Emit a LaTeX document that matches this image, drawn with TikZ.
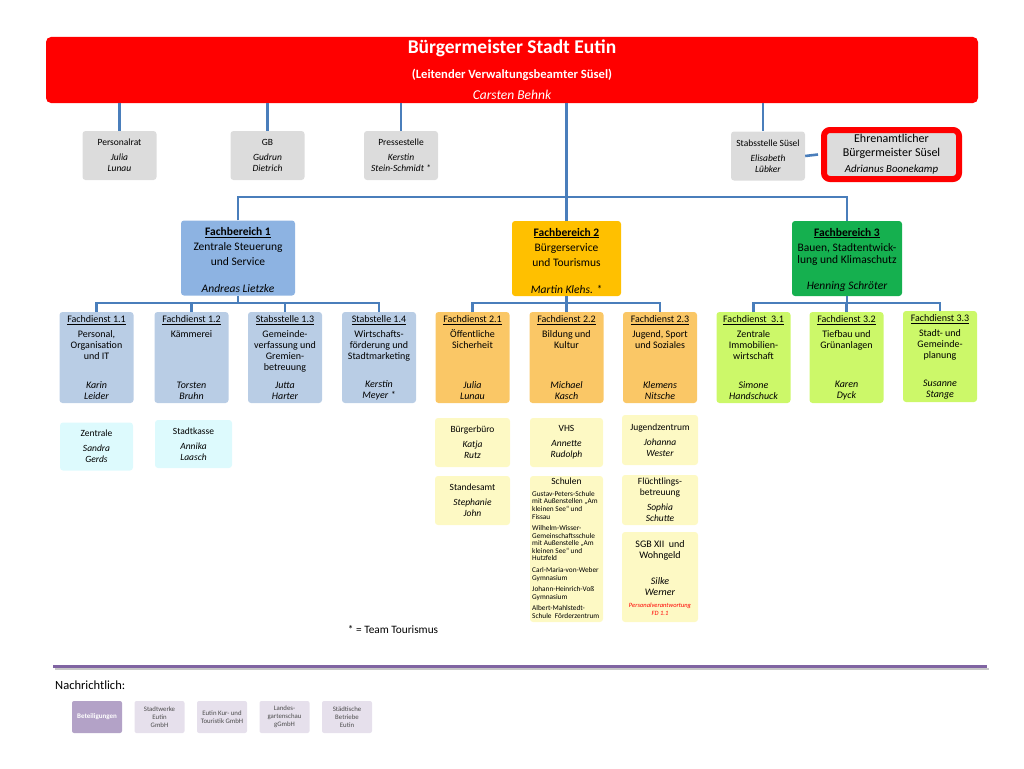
\documentclass[tikz,border=0pt]{standalone}
\usepackage{fontspec}
\setmainfont{Carlito}
\usepackage{tikz}
\definecolor{bmred}{HTML}{FF0000}
\definecolor{boxgrey}{HTML}{DCDCDC}
\definecolor{linkblue}{HTML}{4A7EBB}
\definecolor{fbblue}{HTML}{8DB3E2}
\definecolor{fdblue}{HTML}{B9CDE5}
\definecolor{subcyan}{HTML}{DDFAFD}
\definecolor{fborange}{HTML}{FFC000}
\definecolor{fdorange}{HTML}{FAC766}
\definecolor{subyellow}{HTML}{FDF9C4}
\definecolor{fbgreen}{HTML}{15B04F}
\definecolor{fdgreen}{HTML}{CCF869}
\definecolor{sepviolet}{HTML}{8064A2}
\definecolor{betviolet}{HTML}{B3A2C7}
\definecolor{betlav}{HTML}{E6E0EC}
\tikzset{
  conn/.style={draw=linkblue, line width=2.6pt},
  box/.style={rounded corners=3pt, align=center, inner sep=0pt},
  greybox/.style={box, fill=boxgrey, minimum width=74pt, minimum height=49pt, font=\fontsize{9.5}{11}\selectfont},
  fbbox/.style={box, minimum height=75pt},
  fdbox/.style={box, minimum width=74pt, minimum height=91pt},
  subbox/.style={box, minimum width=74pt, minimum height=49pt, font=\fontsize{9.5}{11}\selectfont},
  betbox/.style={box, rounded corners=2pt, minimum width=50pt, minimum height=32pt, fill=betlav, text=black!70, font=\fontsize{6.8}{8}\selectfont},
  fbhead/.style={anchor=north, align=center, inner sep=0pt, font=\fontsize{11.5}{15}\selectfont},
  fbname/.style={anchor=south, align=center, inner sep=0pt, font=\fontsize{11.5}{13}\itshape},
  fdhead/.style={anchor=north, align=center, inner sep=0pt, font=\fontsize{10}{11}\selectfont},
  fdname/.style={anchor=south, align=center, inner sep=0pt, font=\fontsize{10}{11}\itshape},
}
\begin{document}
\begin{tikzpicture}[x=1pt, y=-1pt]
\useasboundingbox (0,0) rectangle (1024,768);

% Buergermeister
\node (bm) [box, fill=bmred, rounded corners=5pt, minimum width=932pt, minimum height=66pt] at (512,70) {};
\node (bmtitle) at (512,48) [text=white, font=\fontsize{19.5}{22}\bfseries] {Bürgermeister Stadt Eutin};
\node (bmsub) at (512,75) [text=white, font=\fontsize{12.6}{14}\bfseries] {(Leitender Verwaltungsbeamter Süsel)};
\node (bmname) at (512,95) [text=white, font=\fontsize{13.5}{15}\itshape] {Carsten Behnk};

% Stabsstellen
\node (pr) [greybox] at (119.5,155.5) {Personalrat\\[4pt]\textit{Julia}\\\textit{Lunau}};
\node (gb) [greybox] at (267.5,155.5) {GB\\[4pt]\textit{Gudrun}\\\textit{Dietrich}};
\node (ps) [greybox] at (401,155.5) {Pressestelle\\[4pt]\textit{Kerstin}\\\textit{Stein-Schmidt *}};
\node (sts) [greybox] at (768,156) {Stabsstelle Süsel\\[4pt]\textit{Elisabeth}\\\textit{Lübker}};
\node (ehr) [box, fill=boxgrey, draw=bmred, line width=6pt, rounded corners=6pt, minimum width=135pt, minimum height=49pt] at (891.5,154.5) {};
\node (ehrtext) at (891.5,154.5) [align=center, inner sep=0pt, font=\fontsize{12}{13.5}\selectfont] {Ehrenamtlicher\\Bürgermeister Süsel\\[3pt]{\fontsize{10.8}{12}\itshape Adrianus Boonekamp}};
\coordinate (stsin) at ([xshift=-5pt]sts.north);
\coordinate (ehrin) at ([xshift=-3pt]ehr.west);

\draw[conn] (bm.south -| pr.north) -- (pr.north);
\draw[conn] (bm.south -| gb.north) -- (gb.north);
\draw[conn] (bm.south -| ps.north) -- (ps.north);
\draw[conn] (bm.south -| stsin) -- (stsin);
\draw[conn] (sts.east) -- (ehrin);

% Fachbereiche
\node (fb1) [fbbox, fill=fbblue, minimum width=114pt] at (238,258) {};
\node (fb1head) [fbhead] at ([yshift=-7pt]fb1.north) {\textbf{\underline{Fachbereich 1}}\\Zentrale Steuerung\\und Service};
\node (fb1name) [fbname] at ([yshift=2.5pt]fb1.south) {Andreas Lietzke};
\node (fb2) [fbbox, fill=fborange, minimum width=109pt] at (566.5,258.5) {};
\node (fb2head) [fbhead] at ([yshift=-7pt]fb2.north) {\textbf{\underline{Fachbereich 2}}\\Bürgerservice\\und Tourismus};
\node (fb2name) [fbname] at ([yshift=2.5pt]fb2.south) {Martin Klehs. *};
\node (fb3) [fbbox, fill=fbgreen, minimum width=110pt] at (847,258.5) {};
\node (fb3head) [fbhead] at ([yshift=-7pt]fb3.north) {\textbf{\underline{Fachbereich 3}}\\Bauen, Stadtentwick-\\[-2.5pt]lung und Klimaschutz};
\node (fb3name) [fbname] at ([yshift=5pt]fb3.south) {Henning Schröter};

\coordinate (bus) at (0,197);
\draw[conn] (bm.south -| fb2.north) -- (fb2.north);
\draw[conn] (fb1.north) |- (fb3.north |- bus) -- (fb3.north);

% Fachdienste
\node (fd11) [fdbox, fill=fdblue] at (96.5,357.5) {};
\node [fdhead] at ([yshift=-4pt]fd11.north) {\underline{Fachdienst 1.1}\\[3.5pt]Personal,\\Organisation\\und IT};
\node [fdname] at ([yshift=3pt]fd11.south) {Karin\\Leider};
\node (fd12) [fdbox, fill=fdblue] at (191.5,357.5) {};
\node [fdhead] at ([yshift=-4pt]fd12.north) {\underline{Fachdienst 1.2}\\[3.5pt]Kämmerei};
\node [fdname] at ([yshift=3pt]fd12.south) {Torsten\\Bruhn};
\node (fd13) [fdbox, fill=fdblue] at (285,357.5) {};
\node [fdhead] at ([yshift=-4pt]fd13.north) {\underline{Stabsstelle 1.3}\\[3.5pt]Gemeinde-\\verfassung und\\Gremien-\\betreuung};
\node [fdname] at ([yshift=3pt]fd13.south) {Jutta\\Harter};
\node (fd14) [fdbox, fill=fdblue] at (379,357.5) {};
\node [fdhead] at ([yshift=-4pt]fd14.north) {\underline{Stabstelle 1.4}\\[3.5pt]Wirtschafts-\\förderung und\\Stadtmarketing};
\node [fdname] at ([yshift=3pt]fd14.south) {Kerstin\\Meyer *};

\node (fd21) [fdbox, fill=fdorange] at (472.5,357.5) {};
\node [fdhead] at ([yshift=-4pt]fd21.north) {\underline{Fachdienst 2.1}\\[3.5pt]Öffentliche\\Sicherheit};
\node [fdname] at ([yshift=3pt]fd21.south) {Julia\\Lunau};
\node (fd22) [fdbox, fill=fdorange] at (566.5,357.5) {};
\node [fdhead] at ([yshift=-4pt]fd22.north) {\underline{Fachdienst 2.2}\\[3.5pt]Bildung und\\Kultur};
\node [fdname] at ([yshift=3pt]fd22.south) {Michael\\Kasch};
\node (fd23) [fdbox, fill=fdorange] at (660,357.5) {};
\node [fdhead] at ([yshift=-4pt]fd23.north) {\underline{Fachdienst 2.3}\\[3.5pt]Jugend, Sport\\und Soziales};
\node [fdname] at ([yshift=3pt]fd23.south) {Klemens\\Nitsche};

\node (fd31) [fdbox, fill=fdgreen] at (753.5,357.5) {};
\node [fdhead] at ([yshift=-4pt]fd31.north) {\underline{Fachdienst\ \ 3.1}\\[3.5pt]Zentrale\\Immobilien-\\wirtschaft};
\node [fdname] at ([yshift=3pt]fd31.south) {Simone\\Handschuck};
\node (fd32) [fdbox, fill=fdgreen] at (846.5,357.5) {};
\node [fdhead] at ([yshift=-4pt]fd32.north) {\underline{Fachdienst 3.2}\\[3.5pt]Tiefbau und\\Grünanlagen};
\node [fdname] at ([yshift=3pt]fd32.south) {Karen\\Dyck};
\node (fd33) [fdbox, fill=fdgreen] at (940,356.5) {};
\node [fdhead] at ([yshift=-4pt]fd33.north) {\underline{Fachdienst 3.3}\\[3.5pt]Stadt- und\\Gemeinde-\\planung};
\node [fdname] at ([yshift=3pt]fd33.south) {Susanne\\Stange};

\coordinate (bus1) at (0,303);
\draw[conn] (fb1.south) -- (fb1.south |- bus1);
\draw[conn] (fd11.north) |- (fd14.north |- bus1) -- (fd14.north);
\draw[conn] (fd12.north) -- (fd12.north |- bus1);
\draw[conn] (fd13.north) -- (fd13.north |- bus1);
\draw[conn] (fb2.south) -- (fb2.south |- bus1);
\draw[conn] (fd21.north) |- (fd23.north |- bus1) -- (fd23.north);
\draw[conn] (fd22.north) -- (fd22.north |- bus1);
\draw[conn] (fb3.south) -- (fb3.south |- bus1);
\draw[conn] (fd31.north) |- (fd33.north |- bus1) -- (fd33.north);
\draw[conn] (fd32.north) -- (fd32.north |- bus1);

% Sachgebiete
\node (zen) [subbox, fill=subcyan, minimum width=73pt, minimum height=48pt] at (96.5,446.5) {Zentrale\\[4pt]\textit{Sandra}\\\textit{Gerds}};
\node (kasse) [subbox, fill=subcyan, minimum width=77pt, minimum height=48pt] at (193.5,444) {Stadtkasse\\[4pt]\textit{Annika}\\\textit{Laasch}};

\node (buero) [subbox, fill=subyellow, minimum width=75pt] at (472.5,442.5) {Bürgerbüro\\[4pt]\textit{Katja}\\\textit{Rutz}};
\node (standes) [subbox, fill=subyellow, minimum width=75pt] at (472.5,500.5) {Standesamt\\[4pt]\textit{Stephanie}\\\textit{John}};
\node (vhs) [subbox, fill=subyellow, minimum width=73pt] at (566.5,442.5) {VHS\\[4pt]\textit{Annette}\\\textit{Rudolph}};
\node (schulen) [box, fill=subyellow, minimum width=73pt, minimum height=146pt] at (566.5,549) {};
\node (schulenhead) at (566.5,481.5) [font=\fontsize{9.5}{11}\selectfont] {Schulen};
\node (schulenlist) [anchor=north west, inner sep=0pt, align=left, font=\fontsize{7.3}{7.6}\selectfont] at (532,491) {Gustav-Peters-Schule\\mit Außenstellen „Am\\kleinen See“ und\\Fissau\\[3.9pt]Wilhelm-Wisser-\\Gemeinschaftsschule\\mit Außenstelle „Am\\kleinen See“ und\\Hutzfeld\\[3.9pt]Carl-Maria-von-Weber\\Gymnasium\\[3.9pt]Johann-Heinrich-Voß\\Gymnasium\\[3.9pt]Albert-Mahlstedt-\\Schule\ \ Förderzentrum};

\node (jugend) [subbox, fill=subyellow, minimum width=76pt, minimum height=50pt] at (660,440) {Jugendzentrum\\[4pt]\textit{Johanna}\\\textit{Wester}};
\node (fluecht) [subbox, fill=subyellow, minimum width=76pt, minimum height=50pt] at (660,500) {Flüchtlings-\\betreuung\\[4pt]\textit{Sophia}\\\textit{Schutte}};
\node (sgb) [box, fill=subyellow, minimum width=76pt, minimum height=90pt] at (660,577) {};
\node (sgbhead) [fdhead] at ([yshift=-9pt]sgb.north) {SGB XII\ \ und\\Wohngeld};
\node (sgbname) at (660,586.5) [align=center, font=\fontsize{10}{11}\itshape] {Silke\\Werner};
\node (sgbnote) at (660,609) [align=center, text=red, font=\fontsize{6.5}{8}\itshape] {Personalverantwortung\\FD 1.1};

\node (legend) at (393,630) [font=\fontsize{11.3}{13}\selectfont] {* = Team Tourismus};

% Nachrichtlich
\draw[line width=2pt, black!22] (55,668.5) -- (989,668.5);
\draw[line width=3pt, sepviolet] (53,666) -- (987,666);
\node (nachr) at (55,685) [anchor=west, inner sep=0pt, font=\fontsize{12.5}{14}\selectfont] {Nachrichtlich:};
\node (bet) [betbox, fill=betviolet, text=white, font=\fontsize{7}{8}\bfseries] at (97,717) {Beteiligungen};
\node (swe) [betbox] at (159.5,717) {Stadtwerke\\Eutin\\GmbH};
\node (kur) [betbox] at (222,717) {Eutin Kur- und\\Touristik GmbH};
\node (lgs) [betbox] at (284.5,717) {Landes-\\gartenschau\\gGmbH};
\node (sbe) [betbox] at (347,717) {Städtische\\Betriebe\\Eutin};
\end{tikzpicture}
\end{document}
